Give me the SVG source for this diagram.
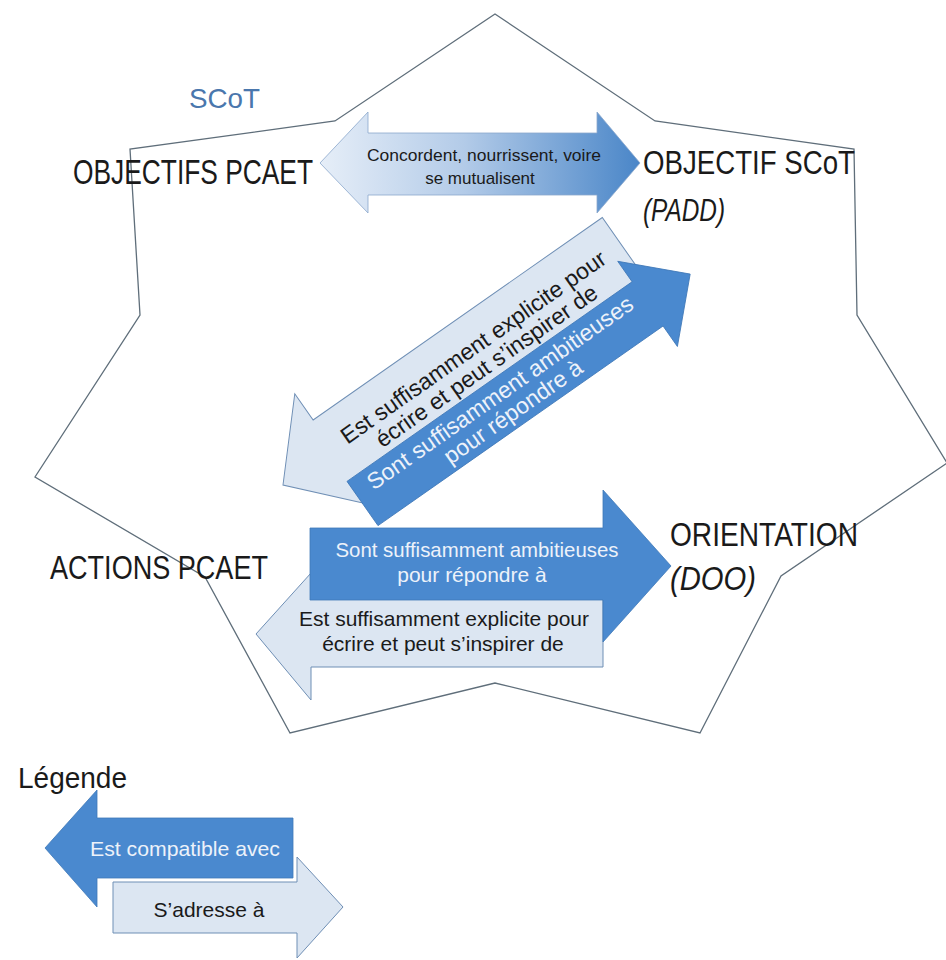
<svg xmlns="http://www.w3.org/2000/svg" width="946" height="960" viewBox="0 0 946 960">
<defs>
<linearGradient id="gDouble" x1="320" y1="0" x2="640" y2="0" gradientUnits="userSpaceOnUse">
<stop offset="0" stop-color="#e6eef8"/>
<stop offset="0.45" stop-color="#b3cbe8"/>
<stop offset="1" stop-color="#4a86c8"/>
</linearGradient>
</defs>
<style>
.star{fill:none;stroke:#5f6e7a;stroke-width:1.3;stroke-linejoin:miter}
.lbl{font-family:"Liberation Sans",Arial,sans-serif;fill:#1a1a1a}
.it{font-style:italic}
.dark{fill:#4a89cf;stroke:#3f78b8;stroke-width:0.8}
.light{fill:#dce6f2;stroke:#6f8fb5;stroke-width:1}
.dbl{fill:url(#gDouble);stroke:#8aa7cc;stroke-width:0.8}
.tw{font-family:"Liberation Sans",Arial,sans-serif;fill:#edf2fa;text-anchor:middle}
.tb{font-family:"Liberation Sans",Arial,sans-serif;fill:#1a1a1a;text-anchor:middle}
</style>
<rect width="946" height="960" fill="#ffffff"/>
<g id="scot">
<polygon class="star" points="495,14 655,121 854,149 857,315 947,463 781,576 700,733 495,683 290,733 205,577 35,477 140,315 130,149 335,121"/>
<text class="lbl" x="189" y="108" font-size="28" style="fill:#4a77ad" textLength="71" lengthAdjust="spacingAndGlyphs">SCoT</text>
</g>
<g id="objectifs-pcaet"><text class="lbl" x="73" y="184" font-size="35" textLength="240" lengthAdjust="spacingAndGlyphs">OBJECTIFS PCAET</text></g>
<g id="objectif-scot">
<text class="lbl" x="643" y="174" font-size="34" textLength="212" lengthAdjust="spacingAndGlyphs">OBJECTIF SCoT</text>
<text class="lbl it" x="643" y="221" font-size="31" textLength="82" lengthAdjust="spacingAndGlyphs">(PADD)</text>
</g>
<g id="actions-pcaet"><text class="lbl" x="50" y="579" font-size="34" textLength="218" lengthAdjust="spacingAndGlyphs">ACTIONS PCAET</text></g>
<g id="orientation">
<text class="lbl" x="670" y="546" font-size="34" textLength="188" lengthAdjust="spacingAndGlyphs">ORIENTATION</text>
<text class="lbl it" x="670" y="590" font-size="34" textLength="86" lengthAdjust="spacingAndGlyphs">(DOO)</text>
</g>
<g id="connectors">
<g id="double-arrow">
<polygon class="dbl" points="320,163 368,112 368,133 597,133 597,112 640,163 597,213 597,195 368,195 368,213"/>
<text class="tb" x="484" y="161" font-size="17" textLength="234" lengthAdjust="spacingAndGlyphs">Concordent, nourrissent, voire</text>
<text class="tb" x="480" y="184" font-size="17">se mutualisent</text>
</g>
<g id="diag-light" transform="translate(283,485) rotate(-35)">
<polygon class="light" points="0,0 62,-68 62,-36 415,-36 415,36 62,36 62,68"/>
<text class="tb" x="235" y="4" font-size="23">Est suffisamment explicite pour</text>
<text class="tb" x="235" y="27" font-size="23">écrire et peut s’inspirer de</text>
</g>
<g id="diag-dark" transform="translate(362.5,503.5) rotate(-35)">
<polygon class="dark" points="0,-27 348,-27 348,-52 400,0 348,52 348,27 0,27"/>
<text class="tw" x="176" y="-4" font-size="23">Sont suffisamment ambitieuses</text>
<text class="tw" x="176" y="19" font-size="23">pour répondre à</text>
</g>
<g id="horiz-light">
<polygon class="light" points="256,634 311,573 311,599 603,599 603,667 311,667 311,700"/>
<text class="tb" x="444" y="626" font-size="21" textLength="290" lengthAdjust="spacingAndGlyphs">Est suffisamment explicite pour</text>
<text class="tb" x="443" y="651" font-size="21">écrire et peut s’inspirer de</text>
</g>
<g id="horiz-dark">
<polygon class="dark" points="310,528 603,528 603,490 671,566 603,642 603,600 310,600"/>
<text class="tw" x="477" y="557" font-size="21" textLength="283" lengthAdjust="spacingAndGlyphs">Sont suffisamment ambitieuses</text>
<text class="tw" x="472" y="582" font-size="21">pour répondre à</text>
</g>
</g>
<g id="legende">
<text class="lbl" x="18" y="788" font-size="30" textLength="109" lengthAdjust="spacingAndGlyphs">Légende</text>
<g id="legend-dark">
<polygon class="dark" points="45,848 97,790 97,818 293,818 293,878 97,878 97,907"/>
<text class="tw" x="185" y="856" font-size="21" textLength="190" lengthAdjust="spacingAndGlyphs">Est compatible avec</text>
</g>
<g id="legend-light">
<polygon class="light" points="113,882 297,882 297,857 343,907 297,958 297,933 113,933"/>
<text class="tb" x="209" y="917" font-size="21">S’adresse à</text>
</g>
</g>
</svg>
